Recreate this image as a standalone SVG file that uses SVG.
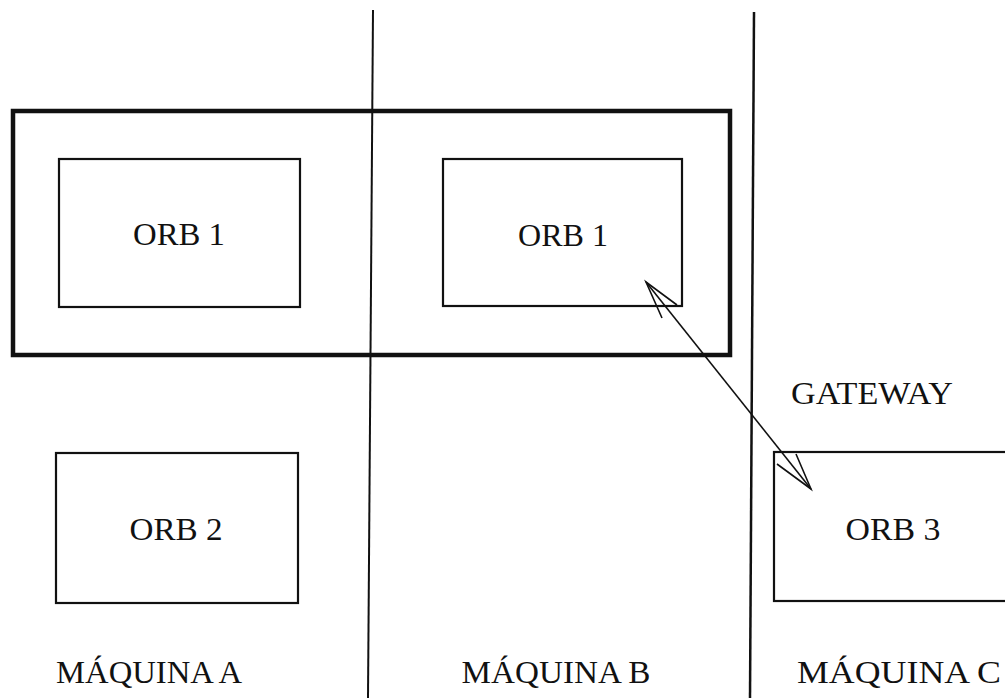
<svg xmlns="http://www.w3.org/2000/svg" width="1005" height="698" viewBox="0 0 1005 698">
<style>
.lbl{font-family:"Liberation Serif","Times New Roman",serif;font-size:31px;fill:#111;text-anchor:middle}
.box{fill:none;stroke:#111;stroke-width:2.2}
.sep{stroke:#111;stroke-width:2}
.arr{fill:none;stroke:#111;stroke-width:1.6;stroke-linejoin:miter}
</style>
<rect width="1005" height="698" fill="#fff"/>
<g id="separators">
<line class="sep" x1="373" y1="10" x2="368" y2="698"/>
<line class="sep" x1="754" y1="12" x2="750" y2="698" style="stroke-width:2.5"/>
</g>
<g id="domain">
<rect x="13" y="111" width="717" height="244" fill="none" stroke="#111" stroke-width="4.5"/>
</g>
<g id="orb1-a">
<rect class="box" x="59" y="159" width="241" height="148"/>
<text class="lbl" x="179" y="245" textLength="92" lengthAdjust="spacingAndGlyphs">ORB 1</text>
</g>
<g id="orb1-b">
<rect class="box" x="443" y="159" width="239" height="147"/>
<text class="lbl" x="563" y="246" textLength="90" lengthAdjust="spacingAndGlyphs">ORB 1</text>
</g>
<g id="orb2">
<rect class="box" x="56" y="453" width="242" height="150"/>
<text class="lbl" x="176" y="540" textLength="93" lengthAdjust="spacingAndGlyphs">ORB 2</text>
</g>
<g id="orb3">
<rect class="box" x="774" y="452" width="240" height="149"/>
<text class="lbl" x="893" y="540" textLength="95" lengthAdjust="spacingAndGlyphs">ORB 3</text>
</g>
<g id="gateway">
<text class="lbl" x="872" y="404" textLength="162" lengthAdjust="spacingAndGlyphs">GATEWAY</text>
</g>
<g id="machines">
<text class="lbl" x="149" y="683" textLength="186" lengthAdjust="spacingAndGlyphs">MÁQUINA A</text>
<text class="lbl" x="556" y="683" textLength="189" lengthAdjust="spacingAndGlyphs">MÁQUINA B</text>
<text class="lbl" x="899" y="683" textLength="204" lengthAdjust="spacingAndGlyphs">MÁQUINA C</text>
</g>
<g id="connectors">
<line class="arr" x1="646" y1="282" x2="811" y2="489"/>
<path class="arr" d="M662,318 L646,282 L677,305"/>
<path class="arr" d="M777,464 L811,489 L796,454"/>
</g>
</svg>
